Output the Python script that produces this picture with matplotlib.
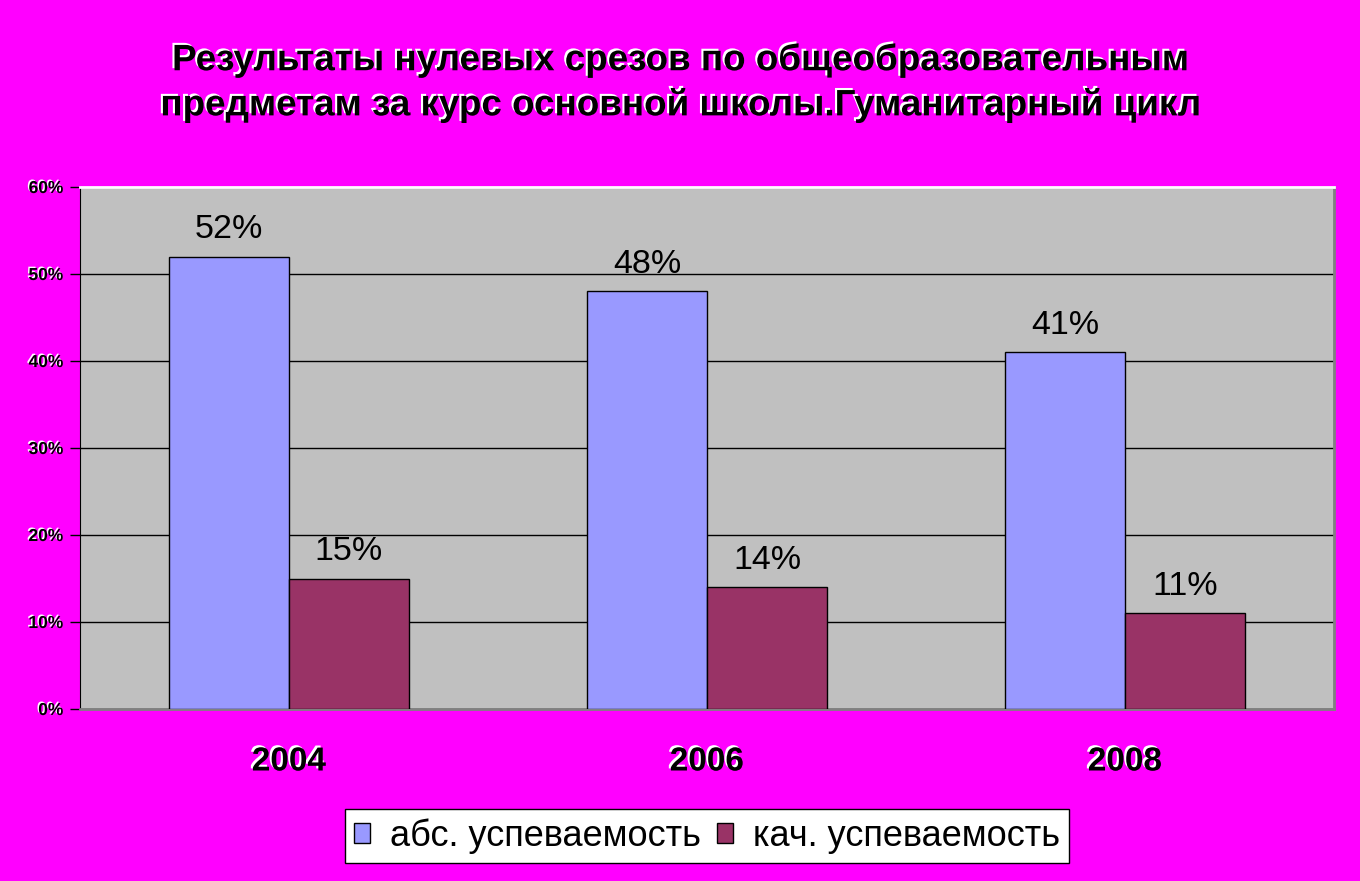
import matplotlib
matplotlib.use('Agg')
import matplotlib.pyplot as plt
import matplotlib.patheffects as pe
from matplotlib.patches import Patch
import numpy as np

# données
annees = ['2004', '2006', '2008']
abs_usp = [52, 48, 41]
kach_usp = [15, 14, 11]
series_noms = ['абс. успеваемость', 'кач. успеваемость']
titre = 'Результаты нулевых срезов по общеобразовательным\nпредметам за курс основной школы.Гуманитарный цикл'

plt.rcParams['font.family'] = ['Liberation Sans', 'DejaVu Sans']

fond = '#FF00FF'
c_abs = '#9999FF'
c_kach = '#993366'

# ombre blanche decalée (haut-gauche)
ombre = [pe.withSimplePatchShadow(offset=(-1.5, 1.5), shadow_rgbFace='white', alpha=1.0)]

fig = plt.figure(figsize=(13.6, 8.81), dpi=100, facecolor=fond)
ax = fig.add_axes([80/1360, 1 - 709/881, 1254/1360, 522/881])
ax.set_facecolor('#C0C0C0')

x = np.arange(len(annees))
w = 0.287
b1 = ax.bar(x - w/2, abs_usp, w, color=c_abs, edgecolor='black', linewidth=1, zorder=3)
b2 = ax.bar(x + w/2, kach_usp, w, color=c_kach, edgecolor='black', linewidth=1, zorder=3)

for bars in (b1, b2):
    for r in bars:
        h = r.get_height()
        ax.annotate(f'{h:.0f}%', (r.get_x() + r.get_width()/2, h),
                    xytext=(0, 8), textcoords='offset points',
                    ha='center', va='bottom', fontsize=24.5, color='black', zorder=4)

ax.set_xlim(-0.5, 2.5)
ax.set_ylim(0, 60)
ax.set_yticks(range(0, 61, 10))
ax.set_yticklabels([f'{v}%' for v in range(0, 61, 10)], fontsize=12.5, fontweight='bold')
for lab in ax.get_yticklabels():
    lab.set_path_effects([pe.withSimplePatchShadow(offset=(-1, 1), shadow_rgbFace='white', alpha=1.0)])
ax.yaxis.grid(True, color='black', linewidth=1, zorder=0)
ax.set_axisbelow(True)
ax.tick_params(axis='y', direction='out', length=7, width=1, color='black', pad=5)

ax.set_xticks(x)
ax.set_xticklabels(annees, fontsize=24, fontweight='bold')
for lab in ax.get_xticklabels():
    lab.set_path_effects(ombre)
ax.tick_params(axis='x', length=0, pad=27)

ax.spines['left'].set_color('black')
ax.spines['bottom'].set_color('#808080')
ax.spines['bottom'].set_linewidth(2)
ax.spines['top'].set_color('white')
ax.spines['top'].set_linewidth(2)
ax.spines['right'].set_color('#808080')
ax.spines['right'].set_linewidth(2)

fig.text(680/1360, 1 - 83/881, titre, ha='center', va='center', fontsize=26.5,
         fontweight='bold', linespacing=1.35, path_effects=ombre)

handles = [Patch(facecolor=c_abs, edgecolor='black'), Patch(facecolor=c_kach, edgecolor='black')]
leg = fig.legend(handles, series_noms, loc='center', bbox_to_anchor=(707/1360, 1 - 836/881),
                 ncol=2, fontsize=26, frameon=True, fancybox=False, edgecolor='black',
                 framealpha=1, handlelength=0.45, handleheight=0.45, handletextpad=0.55,
                 columnspacing=0.45, borderpad=0.25, borderaxespad=0)
leg.get_frame().set_linewidth(1)

plt.savefig('out.png', dpi=100, facecolor=fond)
